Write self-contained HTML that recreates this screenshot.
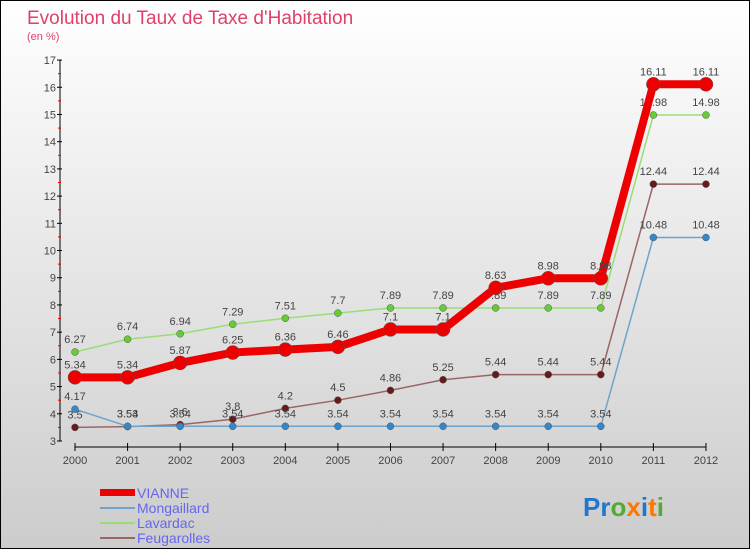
<!DOCTYPE html>
<html><head><meta charset="utf-8"><style>
html,body{margin:0;padding:0}
body{width:750px;height:550px;overflow:hidden;font-family:"Liberation Sans",sans-serif}
</style></head><body>
<svg id="c" width="750" height="550" xmlns="http://www.w3.org/2000/svg">
<defs><linearGradient id="bg" x1="0" y1="0" x2="0" y2="1"><stop offset="0" stop-color="#ffffff"/><stop offset="1" stop-color="#cccccc"/></linearGradient></defs>
<rect x="0.5" y="0.5" width="749" height="548" fill="url(#bg)" stroke="#000"/>
<text x="27" y="24" font-size="19" fill="#e0406a">Evolution du Taux de Taxe d'Habitation</text>
<text x="27" y="40" font-size="11" fill="#e0406a">(en %)</text>
<g id="axes"></g><g id="series"></g>
<g>
<rect x="100" y="489" width="35" height="7" fill="#e00"/>
<text x="137" y="498" font-size="14" fill="#6666ee">VIANNE</text>
<line x1="100" y1="508" x2="135" y2="508" stroke="#6fa3c9" stroke-width="2"/>
<text x="137" y="513" font-size="14" fill="#6666ee">Mongaillard</text>
<line x1="100" y1="523" x2="135" y2="523" stroke="#99dd77" stroke-width="2"/>
<text x="137" y="528" font-size="14" fill="#6666ee">Lavardac</text>
<line x1="100" y1="538" x2="135" y2="538" stroke="#996666" stroke-width="2"/>
<text x="137" y="543" font-size="14" fill="#6666ee">Feugarolles</text>
</g>
<g font-size="26" font-weight="bold">
<text x="583" y="516"><tspan fill="#2277cc">Pr</tspan><tspan fill="#55aa33">o</tspan><tspan fill="#ff7700">x</tspan><tspan fill="#2277cc">i</tspan><tspan fill="#ff7700">t</tspan><tspan fill="#55aa33">i</tspan></text>
</g>
</svg>
<script>
const years=["2000","2001","2002","2003","2004","2005","2006","2007","2008","2009","2010","2011","2012"];
const vianne=[5.34,5.34,5.87,6.25,6.36,6.46,7.1,7.1,8.63,8.98,8.98,16.11,16.11];
const mongaillard=[4.17,3.54,3.54,3.54,3.54,3.54,3.54,3.54,3.54,3.54,3.54,10.48,10.48];
const lavardac=[6.27,6.74,6.94,7.29,7.51,7.7,7.89,7.89,7.89,7.89,7.89,14.98,14.98];
const feugarolles=[3.5,3.53,3.6,3.8,4.2,4.5,4.86,5.25,5.44,5.44,5.44,12.44,12.44];
const yTicks=[3,4,5,6,7,8,9,10,11,12,13,14,15,16,17];
const NS="http://www.w3.org/2000/svg";
const X=i=>75+i*52.58, Y=v=>441-(v-3)*27.21;
function mk(t,a,p){const e=document.createElementNS(NS,t);for(const k in a)e.setAttribute(k,a[k]);p.appendChild(e);return e;}
const ax=document.getElementById('axes');
let e=mk('line',{x1:60,y1:Y(17),x2:60,y2:Y(3),stroke:'#000'},ax);


e=mk('line',{x1:X(0),y1:447,x2:X(12),y2:447,stroke:'#000'},ax);


yTicks.forEach(v=>{
  mk('line',{x1:57,y1:Y(v),x2:62,y2:Y(v),stroke:'#000'},ax);
  if(v<17)mk('line',{x1:58,y1:Y(v+0.5),x2:61,y2:Y(v+0.5),stroke:'#e00'},ax);
  const t=mk('text',{x:56,y:Y(v)+4,'font-size':11,fill:'#444','text-anchor':'end'},ax);t.textContent=v;
  
  
});
years.forEach((y,i)=>{
  mk('line',{x1:X(i),y1:443,x2:X(i),y2:451,stroke:'#000'},ax);
  const t=mk('text',{x:X(i),y:464,'font-size':11,fill:'#444','text-anchor':'middle'},ax);t.textContent=y;
  
  
});
const sg=document.getElementById('series');
function series(d,name,col,dot,w,r){
  const g=mk('g',{},sg);
  
  
  mk('polyline',{points:d.map((v,i)=>X(i)+','+Y(v)).join(' '),fill:'none',stroke:col,'stroke-width':w},g);
  d.forEach((v,i)=>{
    const c=mk('circle',{cx:X(i),cy:Y(v),r:r,fill:dot,stroke:'#555','stroke-width':0.5},g);
    
    
    const t=mk('text',{x:X(i),y:Y(v)-9,'font-size':11,fill:'#444','text-anchor':'middle'},g);t.textContent=v;
  });
}
series(feugarolles,'feugarolles','#996666','#661a1a',1.5,3.5);
series(lavardac,'lavardac','#99dd77','#66cc33',1.5,3.5);
series(mongaillard,'mongaillard','#6fa3c9','#3388cc',1.5,3.5);
series(vianne,'vianne','#ee0000','#ee0000',8,7);
</script>
</body></html>
